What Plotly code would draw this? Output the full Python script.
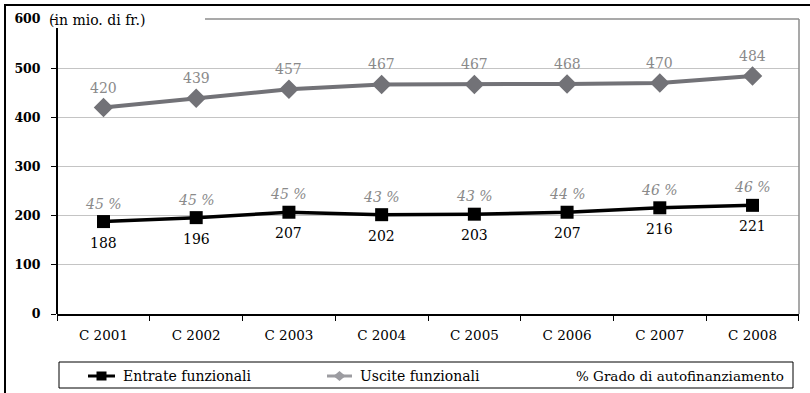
import plotly.graph_objects as go

# Data (in mio. di fr.)
years = ["C 2001", "C 2002", "C 2003", "C 2004", "C 2005", "C 2006", "C 2007", "C 2008"]
entrate = [188, 196, 207, 202, 203, 207, 216, 221]
uscite = [420, 439, 457, 467, 467, 468, 470, 484]
y_ticks = [0, 100, 200, 300, 400, 500, 600]

# Self-financing ratio = entrate / uscite
grado = [round(100 * e / u) for e, u in zip(entrate, uscite)]

SERIF = "DejaVu Serif"
GREY_LINE = "#727277"
GREY_KEY = "#9c9ca1"
GREY_TEXT = "#8a8a8a"

W, H = 810, 393
L, R, T, B = 57, 11, 19, 79
PW, PH = W - L - R, H - T - B


def px_x(px):
    return (px - L) / PW


def px_y(py):
    return (H - B - py) / PH


fig = go.Figure()

fig.add_trace(go.Scatter(
    x=years, y=entrate, name="Entrate funzionali", mode="lines+markers",
    line=dict(color="black", width=3.5), showlegend=False,
    marker=dict(symbol="square", size=13, color="black"),
))
fig.add_trace(go.Scatter(
    x=years, y=uscite, name="Uscite funzionali", mode="lines+markers",
    line=dict(color=GREY_LINE, width=4), showlegend=False,
    marker=dict(symbol="diamond", size=15, color=GREY_LINE),
))

annotations = []
for yr, e, u, g in zip(years, entrate, uscite, grado):
    annotations.append(dict(x=yr, y=u, text=str(u), showarrow=False, yshift=20,
                            font=dict(family=SERIF, size=14, color=GREY_TEXT)))
    annotations.append(dict(x=yr, y=e, text=str(e), showarrow=False, yshift=-21,
                            font=dict(family=SERIF, size=14, color="black")))
    annotations.append(dict(x=yr, y=e, text=f"<i>{g} %</i>", showarrow=False, yshift=18,
                            font=dict(family=SERIF, size=14, color=GREY_TEXT)))

# Unit label at top of the value axis
annotations.append(dict(xref="paper", yref="paper", x=px_x(47), y=px_y(20),
                        xanchor="left", yanchor="middle", showarrow=False,
                        text="(in mio. di fr.)",
                        font=dict(family=SERIF, size=14, color="black")))

# Legend (drawn in pixel positions inside a framed box)
LEG_Y = 376
legend_items = [
    dict(text="Entrate funzionali", key=(88, 115), color="black", marker="square"),
    dict(text="Uscite funzionali", key=(327, 352), color=GREY_KEY, marker="diamond"),
]
shapes = []
for item in legend_items:
    x0, x1 = item["key"]
    cx = (x0 + x1) / 2
    shapes.append(dict(type="line", xref="paper", yref="paper",
                       x0=px_x(x0), x1=px_x(x1), y0=px_y(LEG_Y), y1=px_y(LEG_Y),
                       line=dict(color=item["color"], width=3)))
    if item["marker"] == "square":
        shapes.append(dict(type="rect", xref="paper", yref="paper",
                           x0=px_x(cx - 5), x1=px_x(cx + 5),
                           y0=px_y(LEG_Y + 4.5), y1=px_y(LEG_Y - 4.5),
                           fillcolor=item["color"], line=dict(width=0)))
    else:
        pts = [(cx - 6, LEG_Y), (cx, LEG_Y - 5), (cx + 6, LEG_Y), (cx, LEG_Y + 5)]
        path = "M " + " L ".join(f"{px_x(a)},{px_y(b)}" for a, b in pts) + " Z"
        shapes.append(dict(type="path", xref="paper", yref="paper", path=path,
                           fillcolor=item["color"], line=dict(width=0)))
    annotations.append(dict(xref="paper", yref="paper", x=px_x(x1 + 6), y=px_y(LEG_Y),
                            xanchor="left", yanchor="middle", showarrow=False,
                            text=item["text"],
                            font=dict(family=SERIF, size=14, color="black")))
annotations.append(dict(xref="paper", yref="paper", x=px_x(786), y=px_y(LEG_Y),
                        xanchor="right", yanchor="middle", showarrow=False,
                        text="% Grado di autofinanziamento",
                        font=dict(family=SERIF, size=13.5, color="black")))

shapes += [
    # plot area border (grey), top edge starting right of the unit label
    dict(type="line", xref="paper", yref="paper", x0=px_x(205), x1=1, y0=1, y1=1,
         line=dict(color="#8c8c8c", width=1.5)),
    dict(type="line", xref="paper", yref="paper", x0=1, x1=1, y0=0, y1=1,
         line=dict(color="#8c8c8c", width=1.5)),
    # value axis line
    dict(type="line", xref="paper", yref="paper", x0=0, x1=0, y0=0, y1=px_y(28),
         line=dict(color="black", width=2)),
    # outer frame (top and left)
    dict(type="line", xref="paper", yref="paper", x0=px_x(4), x1=px_x(812),
         y0=px_y(5), y1=px_y(5), line=dict(color="black", width=2)),
    dict(type="line", xref="paper", yref="paper", x0=px_x(5), x1=px_x(5),
         y0=px_y(4), y1=px_y(400), line=dict(color="black", width=2)),
    # legend box
    dict(type="rect", xref="paper", yref="paper", x0=px_x(59), x1=px_x(793),
         y0=px_y(388), y1=px_y(362), line=dict(color="black", width=1)),
]

fig.update_layout(
    width=W, height=H,
    margin=dict(l=L, r=R, t=T, b=B),
    paper_bgcolor="white", plot_bgcolor="white",
    font=dict(family=SERIF, color="black"),
    showlegend=False,
    xaxis=dict(type="category", showgrid=False, showline=True, linecolor="black",
               linewidth=2, ticks="outside", tickson="boundaries", ticklen=5,
               tickcolor="black", tickwidth=1, ticklabelstandoff=8,
               tickfont=dict(family=SERIF, size=13.5, color="black")),
    yaxis=dict(range=[0, 600], tickvals=y_ticks, showgrid=True, gridcolor="#c4c4c4",
               gridwidth=1, zeroline=False, showline=False, ticks="outside",
               ticklen=5, tickcolor="black", ticklabelstandoff=8,
               tickfont=dict(family=SERIF, size=12.5, color="black"),
               ticktext=[f"<b>{v}</b>" for v in y_ticks]),
    annotations=annotations,
    shapes=shapes,
)

fig.write_html("out.html")
